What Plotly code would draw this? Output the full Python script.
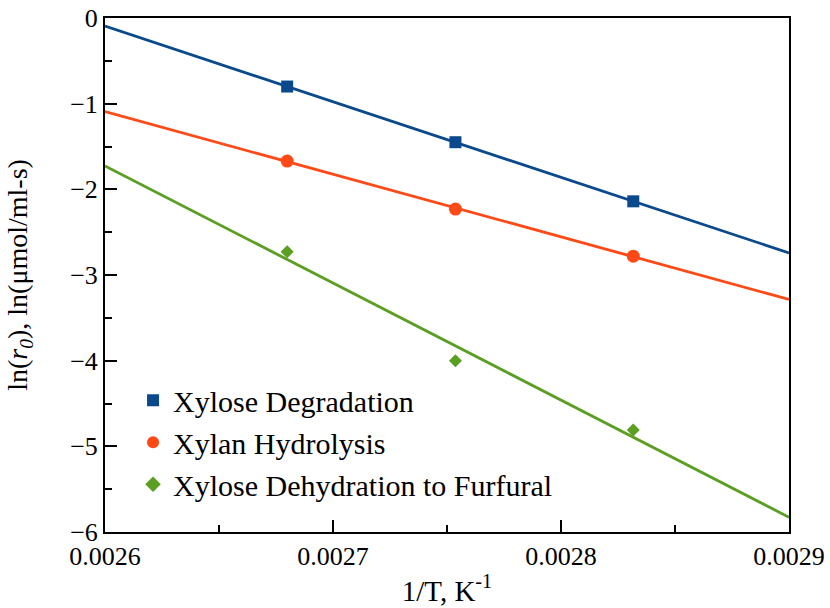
import numpy as np
import plotly.graph_objects as go

# Reciprocal temperatures (1/T, K^-1) for 100, 90 and 80 °C
inv_T = [0.0026799, 0.0027537, 0.0028317]

# ln of initial rates for each reaction
xylose_degradation = [-0.80, -1.45, -2.14]
xylan_hydrolysis = [-1.67, -2.23, -2.78]
xylose_to_furfural = [-2.73, -4.00, -4.81]

series_names = ["Xylose Degradation", "Xylan Hydrolysis", "Xylose Dehydration to Furfural"]
series_values = [xylose_degradation, xylan_hydrolysis, xylose_to_furfural]
colors = ["#0a4a8c", "#ff4a17", "#5a9e22"]
symbols = ["square", "circle", "diamond"]
marker_sizes = [12, 13, 10]

x_range = [0.0026, 0.0029]

fig = go.Figure()

# Arrhenius fit lines spanning the full axis
for vals, col in zip(series_values, colors):
    slope, intercept = np.polyfit(inv_T, vals, 1)
    xs = np.array(x_range)
    fig.add_trace(go.Scatter(
        x=xs, y=slope * xs + intercept, mode="lines",
        line=dict(color=col, width=2.8), showlegend=False, hoverinfo="skip",
    ))

# Measured points
for name, vals, col, sym, sz in zip(series_names, series_values, colors, symbols, marker_sizes):
    fig.add_trace(go.Scatter(
        x=inv_T, y=vals, mode="markers", name=name,
        marker=dict(color=col, symbol=sym, size=sz, line=dict(width=0)),
    ))

font_family = "Liberation Serif, Times New Roman, serif"

fig.update_layout(
    width=830, height=608,
    margin=dict(l=105, r=41, t=18, b=76),
    paper_bgcolor="white", plot_bgcolor="white",
    font=dict(family=font_family, size=26, color="black"),
    legend=dict(
        x=0.041, y=0.307, xanchor="left", yanchor="top",
        font=dict(size=30), bgcolor="rgba(0,0,0,0)",
        itemsizing="constant", tracegroupgap=0,
    ),
)

fig.update_xaxes(
    range=x_range, dtick=0.0001, tick0=0.0026, tickformat=".4f",
    ticks="inside", ticklen=12, tickwidth=1.8, tickcolor="black",
    minor=dict(dtick=0.00005, ticks="inside", ticklen=7, tickwidth=1.8, tickcolor="black"),
    showline=True, linecolor="black", linewidth=2, mirror=True,
    showgrid=False, zeroline=False, automargin=False,
    tickfont=dict(size=26),
    title=dict(text="1/T, K<sup>-1</sup>", font=dict(size=29), standoff=10),
)

fig.update_yaxes(
    range=[-6, 0], dtick=1,
    ticks="inside", ticklen=12, tickwidth=1.8, tickcolor="black",
    minor=dict(dtick=0.5, ticks="inside", ticklen=7, tickwidth=1.8, tickcolor="black"),
    showline=True, linecolor="black", linewidth=2, mirror=True,
    showgrid=False, zeroline=False, automargin=False,
    tickfont=dict(size=26),
    title=dict(text="ln(<i>r</i><sub><i>0</i></sub>), ln(μmol/ml-s)", font=dict(size=28), standoff=34),
)

fig.write_html("out.html")
